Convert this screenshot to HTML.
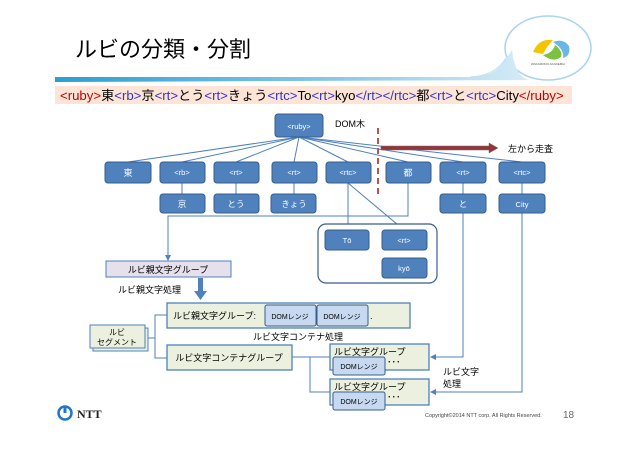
<!DOCTYPE html>
<html><head><meta charset="utf-8"><style>
html,body{margin:0;padding:0;background:#fff;}
svg{display:block;font-family:"Liberation Sans","Noto Sans CJK JP",sans-serif;}
</style></head><body>
<svg width="638" height="451" viewBox="0 0 638 451" xmlns="http://www.w3.org/2000/svg">
<defs>
<linearGradient id="bar" x1="0" x2="1" y1="0" y2="0">
<stop offset="0" stop-color="#2a9fd0"/><stop offset="0.6" stop-color="#8cc8e6"/><stop offset="1" stop-color="#d6ecf7"/>
</linearGradient>
<marker id="ah" markerWidth="6" markerHeight="6" refX="5" refY="3" orient="auto"><path d="M0,0 L6,3 L0,6 z" fill="#4f81bd"/></marker>
</defs>
<ellipse cx="548" cy="48" rx="43" ry="32" fill="#fff" stroke="#a8d4ee" stroke-width="1.5"/>
<path d="M55,77 L470,77 Q495,77 505,60 L512,50 Q515,78 530,80 L55,82 z" fill="url(#bar)"/>
<path d="M470,77 Q495,76 506,58" stroke="#bfe0f2" stroke-width="1" fill="none"/>
<path d="M533,52 q6,-14 20,-12 q-6,6 -10,14 z" fill="#f2c500"/>
<path d="M543,55 q10,-2 12,-10 q8,6 6,12 q-8,6 -18,-2 z" fill="#7cc142"/>
<path d="M553,42 q10,-4 16,4 q2,10 -6,12 q2,-8 -10,-16 z" fill="#6ab7e6"/>
<text x="548" y="65" font-size="3" fill="#555" text-anchor="middle">WAKAMONO AKADEMIA</text>
<text x="75" y="57" font-size="22" fill="#000">ルビの分類・分割</text>
<rect x="55" y="86" width="517" height="18" fill="#fce4d6"/>
<text x="60" y="100" font-size="13.2"><tspan fill="#c00000">&lt;ruby&gt;</tspan>東<tspan fill="#3333cc">&lt;rb&gt;</tspan>京<tspan fill="#3333cc">&lt;rt&gt;</tspan>とう<tspan fill="#3333cc">&lt;rt&gt;</tspan>きょう<tspan fill="#3333cc">&lt;rtc&gt;</tspan>To<tspan fill="#3333cc">&lt;rt&gt;</tspan>kyo<tspan fill="#3333cc">&lt;/rt&gt;&lt;/rtc&gt;</tspan>都<tspan fill="#3333cc">&lt;rt&gt;</tspan>と<tspan fill="#3333cc">&lt;rtc&gt;</tspan>City<tspan fill="#c00000">&lt;/ruby&gt;</tspan></text>

<g stroke="#4f81bd" stroke-width="1" fill="none">
<line x1="299" y1="137" x2="128" y2="162"/><line x1="299" y1="137" x2="182" y2="162"/>
<line x1="299" y1="137" x2="236" y2="162"/><line x1="299" y1="137" x2="294" y2="162"/>
<line x1="299" y1="137" x2="348" y2="162"/><line x1="299" y1="137" x2="408" y2="162"/>
<line x1="299" y1="137" x2="463" y2="162"/><line x1="299" y1="137" x2="522" y2="162"/>
<line x1="182" y1="183" x2="182" y2="194"/><line x1="236" y1="183" x2="236" y2="194"/>
<line x1="294" y1="183" x2="294" y2="194"/><line x1="463" y1="183" x2="463" y2="194"/>
<line x1="522" y1="183" x2="522" y2="194"/>
<line x1="348" y1="183" x2="348" y2="230"/><line x1="348" y1="183" x2="404" y2="230"/>
<line x1="404" y1="250" x2="404" y2="258"/>
<polyline points="408,183 408,216 168,216 168,260" marker-end="url(#ah)"/>
<polyline points="463,213 463,357 431,357" marker-end="url(#ah)"/>
<polyline points="522,213 522,392 431,392" marker-end="url(#ah)"/>
<polyline points="145,338 155,338"/><polyline points="167,315 155,315 155,358 167,358"/>
<polyline points="292,357 330,357"/><polyline points="310,357 310,392 330,392"/>
</g>
<line x1="378" y1="128" x2="378" y2="198" stroke="#c0504d" stroke-width="2" stroke-dasharray="6,4"/>
<path d="M381,146 L489,146 L489,143 L498,148 L489,153 L489,150 L381,150 z" fill="#943634" stroke="#7f6084" stroke-width="0.5"/>
<text x="335" y="127" font-size="9">DOM木</text>
<text x="508" y="152" font-size="9">左から走査</text>

<rect x="318" y="224" width="119" height="59" rx="8" fill="#fff" stroke="#385d8a" stroke-width="1.2"/>

<g fill="#4f81bd" stroke="#385d8a" stroke-width="1">
<rect x="275" y="114" width="48" height="23" rx="3"/>
<rect x="105" y="162" width="46" height="21" rx="3"/><rect x="160" y="162" width="45" height="21" rx="3"/>
<rect x="214" y="162" width="45" height="21" rx="3"/><rect x="272" y="162" width="45" height="21" rx="3"/>
<rect x="326" y="162" width="45" height="21" rx="3"/><rect x="386" y="162" width="45" height="21" rx="3"/>
<rect x="440" y="162" width="46" height="21" rx="3"/><rect x="499" y="162" width="46" height="21" rx="3"/>
<rect x="160" y="194" width="45" height="19" rx="3"/><rect x="214" y="194" width="45" height="19" rx="3"/>
<rect x="271" y="194" width="45" height="19" rx="3"/><rect x="440" y="194" width="46" height="19" rx="3"/>
<rect x="499" y="194" width="46" height="19" rx="3"/>
<rect x="325" y="230" width="44" height="20" rx="3"/><rect x="382" y="230" width="45" height="20" rx="3"/>
<rect x="382" y="258" width="45" height="20" rx="3"/>
</g>
<g fill="#fff" font-size="7.5" text-anchor="middle">
<text x="299" y="129">&lt;ruby&gt;</text>
<text x="128" y="176" font-size="9">東</text><text x="182" y="175">&lt;rb&gt;</text>
<text x="236" y="175">&lt;rt&gt;</text><text x="294" y="175">&lt;rt&gt;</text>
<text x="348" y="175">&lt;rtc&gt;</text><text x="408" y="176" font-size="9">都</text>
<text x="463" y="175">&lt;rt&gt;</text><text x="522" y="175">&lt;rtc&gt;</text>
<text x="182" y="207" font-size="8.5">京</text><text x="236" y="207" font-size="8.5">とう</text>
<text x="294" y="207" font-size="8.5">きょう</text><text x="463" y="207" font-size="8.5">と</text>
<text x="522" y="207">City</text>
<text x="347" y="243">Tō</text><text x="404" y="243">&lt;rt&gt;</text><text x="404" y="271">kyō</text>
</g>

<rect x="106" y="261" width="125" height="16" fill="#e6e0ec" stroke="#4f81bd"/>
<text x="168" y="273" font-size="9" text-anchor="middle">ルビ親文字グループ</text>
<path d="M198,278 L203,278 L203,291 L207,291 L200.5,300 L194,291 L198,291 z" fill="#4f81bd"/>
<text x="118" y="293" font-size="9">ルビ親文字処理</text>

<rect x="167" y="303" width="243" height="25" fill="#ebf1de" stroke="#4f81bd" stroke-width="1.3"/>
<text x="173" y="319" font-size="9">ルビ親文字グループ:</text>
<rect x="265" y="305" width="51" height="21" rx="2" fill="#c6d9f1" stroke="#385d8a"/>
<rect x="317" y="305" width="51" height="21" rx="2" fill="#c6d9f1" stroke="#385d8a"/>
<text x="290" y="319" font-size="7" text-anchor="middle">DOMレンジ</text>
<text x="342" y="319" font-size="7" text-anchor="middle">DOMレンジ</text>
<text x="370" y="319" font-size="9">.</text>

<rect x="93" y="328" width="55" height="23" fill="#ebf1de" stroke="#4f81bd"/>
<rect x="90" y="325" width="55" height="23" fill="#ebf1de" stroke="#4f81bd"/>
<text x="117" y="335" font-size="8" text-anchor="middle">ルビ</text>
<text x="117" y="345" font-size="8" text-anchor="middle">セグメント</text>

<text x="253" y="340" font-size="9">ルビ文字コンテナ処理</text>
<rect x="167" y="345" width="125" height="25" fill="#ebf1de" stroke="#4f81bd" stroke-width="1.3"/>
<text x="229" y="361" font-size="9" text-anchor="middle">ルビ文字コンテナグループ</text>

<rect x="330" y="344" width="99" height="26" fill="#ebf1de" stroke="#4f81bd" stroke-width="1.3"/>
<text x="334" y="355" font-size="9">ルビ文字グループ</text>
<rect x="333" y="357" width="52" height="18" rx="2" fill="#c6d9f1" stroke="#385d8a"/>
<text x="359" y="369" font-size="7" text-anchor="middle">DOMレンジ</text>
<text x="387" y="365" font-size="9">･･･</text>
<rect x="330" y="379" width="99" height="26" fill="#ebf1de" stroke="#4f81bd" stroke-width="1.3"/>
<text x="334" y="390" font-size="9">ルビ文字グループ</text>
<rect x="333" y="392" width="52" height="18" rx="2" fill="#c6d9f1" stroke="#385d8a"/>
<text x="359" y="404" font-size="7" text-anchor="middle">DOMレンジ</text>
<text x="387" y="400" font-size="9">･･･</text>
<text x="443" y="375" font-size="9">ルビ文字</text>
<text x="443" y="387" font-size="9">処理</text>

<circle cx="65" cy="413" r="6.5" fill="none" stroke="#1f78c1" stroke-width="2.5"/>
<rect x="63.5" y="407" width="3" height="6" fill="#1f78c1"/>
<text x="77" y="418" font-size="12" font-weight="bold" font-family="Liberation Serif,serif" fill="#222">NTT</text>
<text x="425" y="417" font-size="5.5" fill="#444">Copyright©2014 NTT corp. All Rights Reserved.</text>
<text x="563" y="418" font-size="10" fill="#666">18</text>
</svg>
</body></html>
